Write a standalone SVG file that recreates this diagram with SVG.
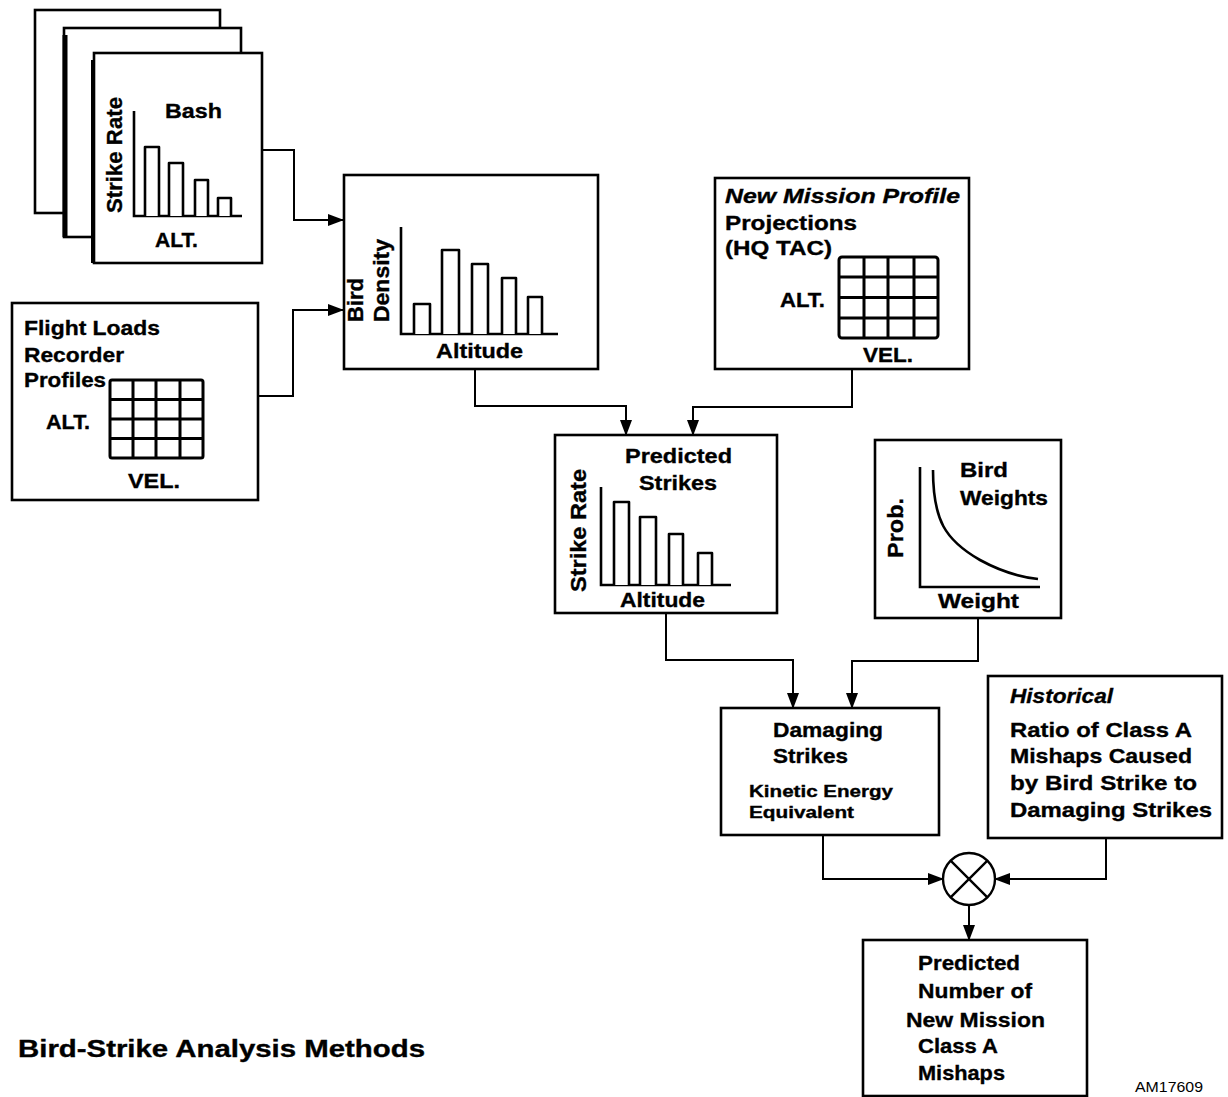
<svg xmlns="http://www.w3.org/2000/svg" width="1228" height="1097" viewBox="0 0 1228 1097">
<defs>
<marker id="arr" markerUnits="userSpaceOnUse" markerWidth="16" markerHeight="12" refX="15" refY="6" orient="auto">
<path d="M0,0 L16,6 L0,12 z" fill="#000"/>
</marker>
<style>
.box{fill:#fff;stroke:#000;stroke-width:2.6}
.ax{fill:none;stroke:#000;stroke-width:2.6}
.bar{fill:#fff;stroke:#000;stroke-width:2.6;stroke-linejoin:round}
.grid{fill:none;stroke:#000;stroke-width:3}
.con{fill:none;stroke:#000;stroke-width:2}
.t{font-family:"Liberation Sans",Arial,Helvetica,sans-serif;font-weight:bold;font-size:21px;fill:#000;stroke:#000;stroke-width:0.35}
.r{font-size:22px}
.s{font-size:16px}
.i{font-style:italic}
</style>
</defs>
<rect width="1228" height="1097" fill="#fff"/>

<g id="bash">
<rect class="box" x="35" y="10" width="185" height="203"/>
<rect class="box" x="64" y="28" width="177" height="209"/>
<line x1="65" y1="35" x2="65" y2="237" stroke="#000" stroke-width="5"/>
<rect class="box" x="94" y="53" width="168" height="210"/>
<line x1="93" y1="60" x2="93" y2="263" stroke="#000" stroke-width="4"/>
<path class="ax" d="M134,111 V216 H242"/>
<path class="bar" d="M145,216 V147 H159 V216 M169,216 V163 H183 V216 M195,216 V180 H208 V216 M218,216 V198 H231 V216"/>
<text class="t r" transform="translate(122,213) rotate(-90)" textLength="116" lengthAdjust="spacingAndGlyphs">Strike Rate</text>
<text class="t" x="165" y="118" textLength="57" lengthAdjust="spacingAndGlyphs">Bash</text>
<text class="t" x="155" y="247" textLength="43" lengthAdjust="spacingAndGlyphs">ALT.</text>
</g>

<g id="flight-loads">
<rect class="box" x="12" y="303" width="246" height="197"/>
<text class="t" x="24" y="335" textLength="136" lengthAdjust="spacingAndGlyphs">Flight Loads</text>
<text class="t" x="24" y="362" textLength="100" lengthAdjust="spacingAndGlyphs">Recorder</text>
<text class="t" x="24" y="387" textLength="82" lengthAdjust="spacingAndGlyphs">Profiles</text>
<rect class="grid" x="110" y="380" width="93" height="78" rx="2"/>
<path class="grid" d="M133,380 V458 M156,380 V458 M180,380 V458 M110,399.5 H203 M110,419 H203 M110,438.5 H203"/>
<text class="t" x="46" y="429" textLength="44" lengthAdjust="spacingAndGlyphs">ALT.</text>
<text class="t" x="128" y="488" textLength="52" lengthAdjust="spacingAndGlyphs">VEL.</text>
</g>

<g id="bird-density">
<rect class="box" x="344" y="175" width="254" height="194"/>
<path class="ax" d="M401,227 V334 H558"/>
<path class="bar" d="M414,334 V304 H430 V334 M442,334 V250 H459 V334 M472,334 V264 H488 V334 M502,334 V278 H516 V334 M528,334 V297 H542 V334"/>
<text class="t r" transform="translate(363,322) rotate(-90)" textLength="44" lengthAdjust="spacingAndGlyphs">Bird</text>
<text class="t r" transform="translate(389,322) rotate(-90)" textLength="83" lengthAdjust="spacingAndGlyphs">Density</text>
<text class="t" x="436" y="358" textLength="87" lengthAdjust="spacingAndGlyphs">Altitude</text>
</g>

<g id="new-mission">
<rect class="box" x="715" y="178" width="254" height="191"/>
<text class="t i" x="725" y="203" textLength="235" lengthAdjust="spacingAndGlyphs">New Mission Profile</text>
<text class="t" x="725" y="230" textLength="132" lengthAdjust="spacingAndGlyphs">Projections</text>
<text class="t" x="725" y="255" textLength="107" lengthAdjust="spacingAndGlyphs">(HQ TAC)</text>
<rect class="grid" x="839" y="257" width="99" height="81" rx="3"/>
<path class="grid" d="M864,257 V338 M888,257 V338 M914,257 V338 M839,277 H938 M839,297.5 H938 M839,318 H938"/>
<text class="t" x="780" y="307" textLength="45" lengthAdjust="spacingAndGlyphs">ALT.</text>
<text class="t" x="863" y="362" textLength="50" lengthAdjust="spacingAndGlyphs">VEL.</text>
</g>

<g id="predicted-strikes">
<rect class="box" x="555" y="435" width="222" height="178"/>
<path class="ax" d="M601,487 V585 H731"/>
<path class="bar" d="M614,585 V502 H629 V585 M640,585 V517 H656 V585 M669,585 V534 H683 V585 M698,585 V553 H712 V585"/>
<text class="t r" transform="translate(586,592) rotate(-90)" textLength="123" lengthAdjust="spacingAndGlyphs">Strike Rate</text>
<text class="t" x="625" y="463" textLength="107" lengthAdjust="spacingAndGlyphs">Predicted</text>
<text class="t" x="639" y="490" textLength="78" lengthAdjust="spacingAndGlyphs">Strikes</text>
<text class="t" x="620" y="607" textLength="85" lengthAdjust="spacingAndGlyphs">Altitude</text>
</g>

<g id="bird-weights">
<rect class="box" x="875" y="440" width="186" height="178"/>
<path class="ax" d="M920,467 V587 H1040"/>
<path class="ax" d="M933,470 C933,520 945,540 980,560 C1000,571 1020,577 1038,579"/>
<text class="t r" transform="translate(903,558) rotate(-90)" textLength="60" lengthAdjust="spacingAndGlyphs">Prob.</text>
<text class="t" x="960" y="477" textLength="48" lengthAdjust="spacingAndGlyphs">Bird</text>
<text class="t" x="960" y="505" textLength="88" lengthAdjust="spacingAndGlyphs">Weights</text>
<text class="t" x="938" y="608" textLength="81" lengthAdjust="spacingAndGlyphs">Weight</text>
</g>

<g id="damaging-strikes">
<rect class="box" x="721" y="708" width="218" height="127"/>
<text class="t" x="773" y="737" textLength="110" lengthAdjust="spacingAndGlyphs">Damaging</text>
<text class="t" x="773" y="763" textLength="75" lengthAdjust="spacingAndGlyphs">Strikes</text>
<text class="t s" x="749" y="797" textLength="144" lengthAdjust="spacingAndGlyphs">Kinetic Energy</text>
<text class="t s" x="749" y="818" textLength="105" lengthAdjust="spacingAndGlyphs">Equivalent</text>
</g>

<g id="historical-ratio">
<rect class="box" x="988" y="676" width="234" height="162"/>
<text class="t i" x="1010" y="703" textLength="103" lengthAdjust="spacingAndGlyphs">Historical</text>
<text class="t" x="1010" y="737" textLength="182" lengthAdjust="spacingAndGlyphs">Ratio of Class A</text>
<text class="t" x="1010" y="763" textLength="182" lengthAdjust="spacingAndGlyphs">Mishaps Caused</text>
<text class="t" x="1010" y="790" textLength="187" lengthAdjust="spacingAndGlyphs">by Bird Strike to</text>
<text class="t" x="1010" y="817" textLength="202" lengthAdjust="spacingAndGlyphs">Damaging Strikes</text>
</g>

<g id="multiplier">
<circle cx="969" cy="879" r="26" fill="#fff" stroke="#000" stroke-width="2.4"/>
<path d="M950.6,860.6 L987.4,897.4 M987.4,860.6 L950.6,897.4" stroke="#000" stroke-width="2.4"/>
</g>

<g id="predicted-mishaps">
<rect class="box" x="863" y="940" width="224" height="156"/>
<text class="t" x="918" y="970" textLength="102" lengthAdjust="spacingAndGlyphs">Predicted</text>
<text class="t" x="918" y="998" textLength="114" lengthAdjust="spacingAndGlyphs">Number of</text>
<text class="t" x="906" y="1027" textLength="139" lengthAdjust="spacingAndGlyphs">New Mission</text>
<text class="t" x="918" y="1053" textLength="80" lengthAdjust="spacingAndGlyphs">Class A</text>
<text class="t" x="918" y="1080" textLength="87" lengthAdjust="spacingAndGlyphs">Mishaps</text>
</g>

<g id="connectors">
<path class="con" marker-end="url(#arr)" d="M262,150 H294 V220 H343"/>
<path class="con" marker-end="url(#arr)" d="M258,396 H293 V310 H343"/>
<path class="con" marker-end="url(#arr)" d="M475,369 V406 H626 V435"/>
<path class="con" marker-end="url(#arr)" d="M852,369 V407 H693 V435"/>
<path class="con" marker-end="url(#arr)" d="M666,613 V660 H793 V708"/>
<path class="con" marker-end="url(#arr)" d="M978,618 V661 H852 V708"/>
<path class="con" marker-end="url(#arr)" d="M823,835 V879 H943"/>
<path class="con" marker-end="url(#arr)" d="M1106,838 V879 H995"/>
<path class="con" marker-end="url(#arr)" d="M969,905 V940"/>
</g>

<text class="t" x="18" y="1057" style="font-size:23px" textLength="407" lengthAdjust="spacingAndGlyphs">Bird-Strike Analysis Methods</text>
<text x="1135" y="1092" font-family="Liberation Sans,Arial,sans-serif" font-size="15" textLength="68" lengthAdjust="spacingAndGlyphs">AM17609</text>
</svg>
